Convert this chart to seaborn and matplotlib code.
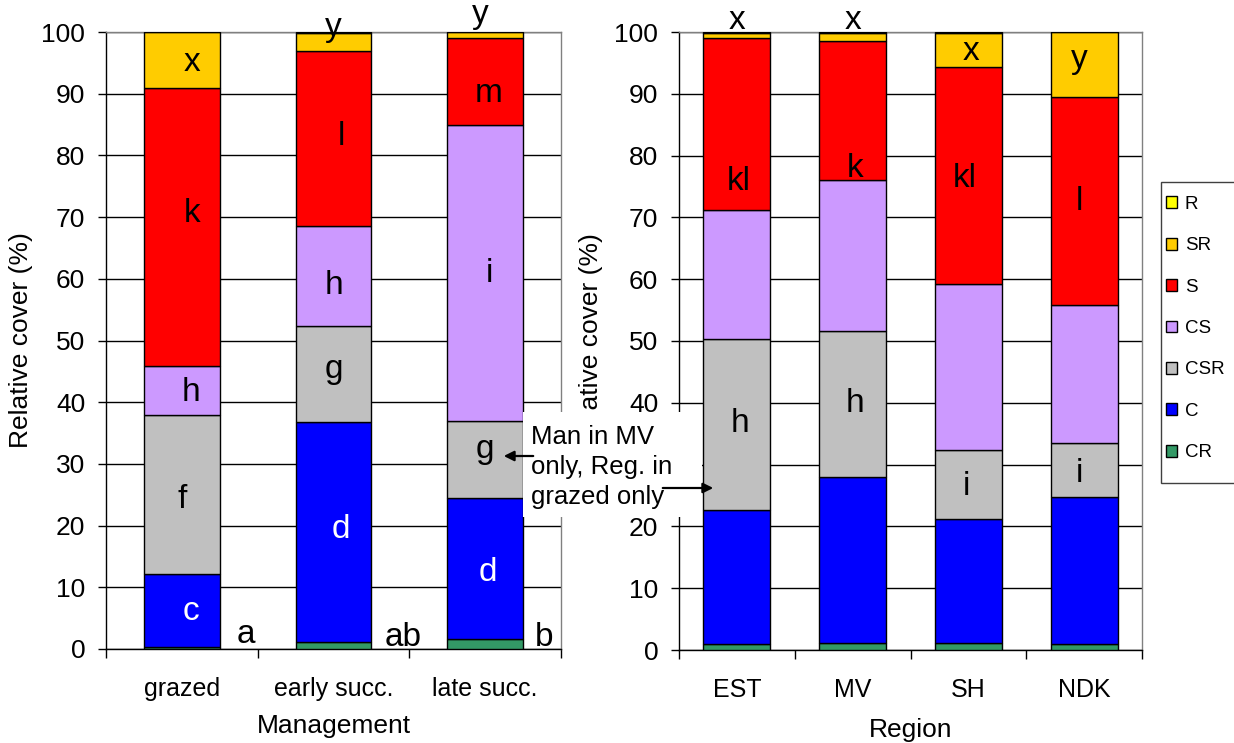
import matplotlib
matplotlib.use("Agg")
import matplotlib.pyplot as plt
import matplotlib.patches as mpatches
import numpy as np
import seaborn as sns

# ---------------- data ----------------
strategies = ["CR", "C", "CSR", "CS", "S", "SR", "R"]
colors = {"CR": "#339966", "C": "#0000FF", "CSR": "#C0C0C0", "CS": "#CC99FF",
          "S": "#FF0000", "SR": "#FFCC00", "R": "#FFFF00"}

mgmt_cats = ["grazed", "early succ.", "late succ."]
mgmt_CR = [0.4, 1.1, 1.6]
mgmt_C = [11.8, 35.7, 22.9]
mgmt_CSR = [25.8, 15.5, 12.5]
mgmt_CS = [7.8, 16.2, 48.0]
mgmt_S = [45.2, 28.5, 14.1]
mgmt_SR = [9.0, 2.8, 0.9]
mgmt_R = [0.0, 0.2, 0.0]

region_cats = ["EST", "MV", "SH", "NDK"]
region_CR = [1.0, 1.1, 1.1, 0.9]
region_C = [21.6, 26.9, 20.1, 23.9]
region_CSR = [27.7, 23.6, 11.2, 8.7]
region_CS = [20.9, 24.5, 26.8, 22.3]
region_S = [27.8, 22.5, 35.2, 33.7]
region_SR = [0.9, 1.2, 5.4, 10.5]
region_R = [0.1, 0.2, 0.2, 0.0]

# letters: (category index, text, y position, x offset, colour)
mgmt_letters = [
    (0, "c", 6.1, 0.06, "white"), (0, "f", 24.3, 0.0, "black"), (0, "h", 41.5, 0.06, "black"),
    (0, "k", 70.6, 0.07, "black"), (0, "x", 95.1, 0.07, "black"), (0, "a", 2.4, 0.42, "black"),
    (1, "d", 19.4, 0.05, "white"), (1, "g", 45.3, 0.0, "black"), (1, "h", 58.9, 0.0, "black"),
    (1, "l", 83.1, 0.05, "black"), (1, "y", 100.8, 0.0, "black"), (1, "ab", 1.9, 0.46, "black"),
    (2, "d", 12.4, 0.02, "white"), (2, "g", 32.4, 0.0, "black"), (2, "i", 60.9, 0.03, "black"),
    (2, "m", 90.1, 0.02, "black"), (2, "y", 102.8, -0.03, "black"), (2, "b", 1.9, 0.39, "black"),
]
region_letters = [
    (0, "h", 36.7, 0.03, "black"), (0, "kl", 75.8, 0.02, "black"), (0, "x", 101.9, 0.0, "black"),
    (1, "h", 39.9, 0.02, "black"), (1, "k", 77.9, 0.02, "black"), (1, "x", 101.9, 0.0, "black"),
    (2, "i", 26.5, -0.02, "black"), (2, "kl", 76.3, -0.03, "black"), (2, "x", 96.8, 0.02, "black"),
    (3, "i", 28.6, -0.04, "black"), (3, "l", 72.6, -0.04, "black"), (3, "y", 95.6, -0.04, "black"),
]

mgmt_series = [mgmt_CR, mgmt_C, mgmt_CSR, mgmt_CS, mgmt_S, mgmt_SR, mgmt_R]
region_series = [region_CR, region_C, region_CSR, region_CS, region_S, region_SR, region_R]

# ---------------- style ----------------
plt.rcParams["font.family"] = ["Liberation Sans", "DejaVu Sans"]

W, H = 1234, 743
fig = plt.figure(figsize=(W / 100, H / 100), dpi=100)

def fx(px):
    return px / W

def fy(py):
    return 1 - py / H

ax1 = fig.add_axes([fx(106), fy(649), (561 - 106) / W, (649 - 32) / H])
ax2 = fig.add_axes([fx(679), fy(650), (1142 - 679) / W, (650 - 32) / H])


def draw_panel(ax, cats, series, width, letters, xlabel):
    bottom = np.zeros(len(cats))
    for name, vals in zip(strategies, series):
        vals = np.asarray(vals, dtype=float)
        sns.barplot(x=cats, y=vals, bottom=bottom, color=colors[name], saturation=1,
                    width=width, edgecolor="black", linewidth=1.0, ax=ax, zorder=3)
        bottom = bottom + vals
    n = len(cats)
    ax.set_xlim(-0.5, n - 0.5)
    ax.set_ylim(0, 100)
    ax.set_yticks(np.arange(0, 101, 10))
    ax.yaxis.grid(True, color="black", linewidth=1.0, zorder=0)
    ax.xaxis.grid(False)
    ax.set_axisbelow(True)
    ax.tick_params(axis="y", labelsize=19, length=6, width=1, pad=9, direction="out")
    ax.set_xticks(range(n))
    ax.set_xticklabels(cats)
    ax.tick_params(axis="x", which="major", length=0, labelsize=18, pad=20)
    ax.set_xticks(np.arange(-0.5, n, 1.0), minor=True)
    ax.tick_params(axis="x", which="minor", length=6.5, width=1, direction="out")
    for side in ["left", "bottom"]:
        ax.spines[side].set_color("black")
        ax.spines[side].set_linewidth(1.0)
    for side in ["top", "right"]:
        ax.spines[side].set_color("#808080")
        ax.spines[side].set_linewidth(1.0)
    ax.set_xlabel(xlabel, fontsize=19)
    ax.set_ylabel("Relative cover (%)", fontsize=19)
    for ci, txt, yv, dx, col in letters:
        ax.text(ci + dx, yv, txt, ha="center", va="center", fontsize=24, color=col,
                zorder=6, clip_on=False)


draw_panel(ax1, mgmt_cats, mgmt_series, 0.5, mgmt_letters, "Management")
draw_panel(ax2, region_cats, region_series, 0.58, region_letters, "Region")

ax1.yaxis.set_label_coords(-0.16, 0.5)
ax2.yaxis.set_label_coords(-0.164, 0.5)
ax1.xaxis.set_label_coords(0.5, -0.106)
ax2.xaxis.set_label_coords(0.5, -0.11)

# legend: separate frame + frameless legend
frame = mpatches.Rectangle((fx(1161), fy(483)), (1240 - 1161) / W, (483 - 182) / H,
                           transform=fig.transFigure, facecolor="white",
                           edgecolor="#404040", linewidth=1.0, zorder=4)
fig.add_artist(frame)
handles = [mpatches.Patch(facecolor=colors[s], edgecolor="black", linewidth=1.0, label=s)
           for s in strategies[::-1]]
leg = fig.legend(handles=handles, loc="upper left", bbox_to_anchor=(fx(1166), fy(196)),
                 frameon=False, fontsize=13.5, handlelength=0.6, handleheight=0.6,
                 handletextpad=0.4, labelspacing=1.3, borderpad=0, borderaxespad=0)
leg.set_zorder(5)

# annotation box covering the gap between panels
box = mpatches.Rectangle((fx(523), fy(517)), (702 - 523) / W, (517 - 412) / H,
                         transform=fig.transFigure, facecolor="white",
                         edgecolor="none", zorder=7)
fig.add_artist(box)
fig.text(fx(531), fy(467), "Man in MV\nonly, Reg. in\ngrazed only", ha="left",
         va="center", fontsize=18.5, linespacing=1.3, zorder=8)
arr1 = mpatches.FancyArrowPatch((fx(536), fy(456)), (fx(501), fy(456)),
                                transform=fig.transFigure, arrowstyle="-|>",
                                mutation_scale=15, linewidth=1.6, color="black", zorder=9)
arr2 = mpatches.FancyArrowPatch((fx(660), fy(488)), (fx(716), fy(488)),
                                transform=fig.transFigure, arrowstyle="-|>",
                                mutation_scale=15, linewidth=1.6, color="black", zorder=9)
fig.add_artist(arr1)
fig.add_artist(arr2)

fig.savefig("out.png", dpi=100)
